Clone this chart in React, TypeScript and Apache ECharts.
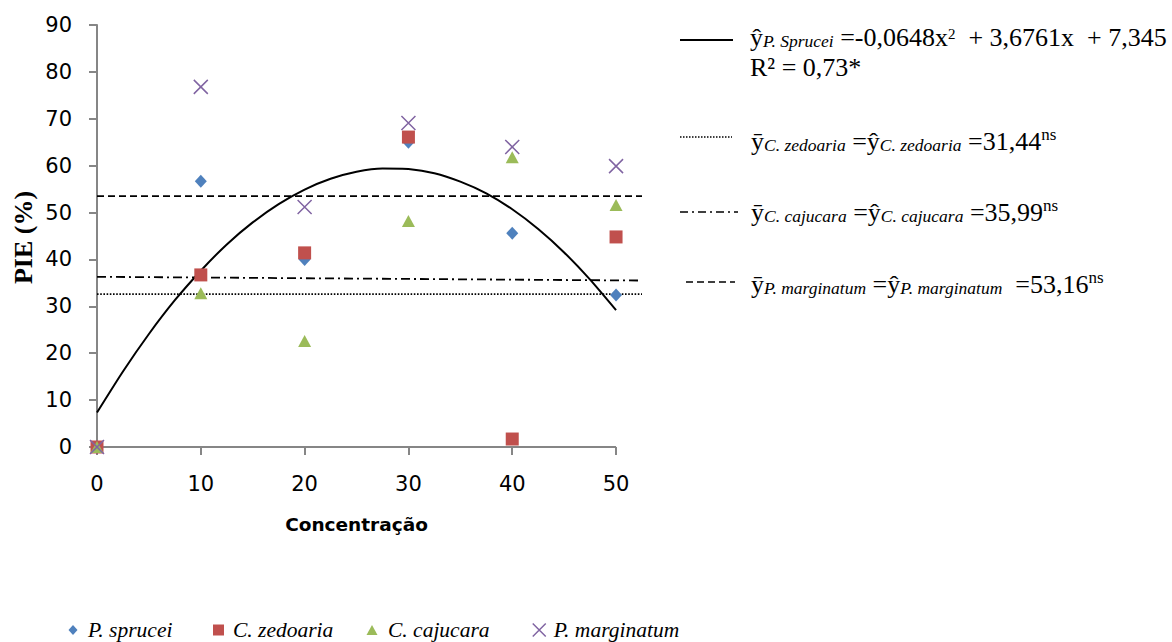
import React, { useEffect, useRef } from "react";
import * as echarts from "echarts";

// ---------- data ----------
const concentrations = [0, 10, 20, 30, 40, 50];
const pSprucei = [0, 56.7, 40.0, 65.0, 45.6, 32.4];
const cZedoaria = [0, 36.7, 41.4, 66.1, 1.7, 44.8];
const cCajucara = [0, 32.8, 22.6, 48.2, 61.8, 51.6];
const pMarginatum = [0, 76.8, 51.2, 69.1, 64.0, 59.9];

// fitted quadratic for P. sprucei
const curveX = [0, 2.5, 5, 7.5, 10, 12.5, 15, 17.5, 20, 22.5, 25, 27.5, 30, 32.5, 35, 37.5, 40, 42.5, 45, 47.5, 50];
const curveY = [7.35, 16.1, 24.1, 31.3, 37.6, 43.2, 47.9, 51.8, 54.9, 57.2, 58.7, 59.4, 59.3, 58.4, 56.6, 54.1, 50.7, 46.5, 41.5, 35.7, 29.2];

// mean lines (drawn across the whole plot width)
const meanLineX = [0, 52.5];
const zedoariaMean = [32.6, 32.6];
const cajucaraMean = [36.3, 35.5];
const marginatumMean = [53.5, 53.5];

const xTicks = [0, 10, 20, 30, 40, 50];
const xAxisLineX = [0, 50];
const xAxisLineY = [0, 0];

const seriesNames = ["P. sprucei", "C. zedoaria", "C. cajucara", "P. marginatum"];
const colors = ["#4F81BD", "#C0504D", "#9BBB59", "#8064A2"];

const X_PATH = "path://M0,0L10,10M10,0L0,10";
const SERIF = "Liberation Serif";
const SANS = "DejaVu Sans";
const AXIS_GRAY = "#868686";

const pairs = (xs: number[], ys: number[]) => xs.map((x, i) => [x, ys[i]]);

export default function App() {
  const ref = useRef<HTMLDivElement>(null);

  useEffect(() => {
    if (!ref.current) return;
    const chart = echarts.init(ref.current, null, { renderer: "svg" });

    const rich = {
      m: { fontFamily: SERIF, fontSize: 26, lineHeight: 30, verticalAlign: "bottom", color: "#000" },
      s: { fontFamily: SERIF, fontSize: 17.5, fontStyle: "italic", lineHeight: 30, verticalAlign: "bottom", color: "#000" },
      p: { fontFamily: SERIF, fontSize: 15, lineHeight: 30, verticalAlign: "bottom", padding: [0, 0, 9, 0], color: "#000" },
      n: { fontFamily: SERIF, fontSize: 17, lineHeight: 30, verticalAlign: "bottom", padding: [0, 0, 11, 0], color: "#000" },
    };

    const eqText = (x: number, y: number, text: string) => ({
      type: "text",
      x,
      y,
      style: { text, rich, align: "left", verticalAlign: "top" },
    });

    const sample = (x1: number, x2: number, y: number, dash: any, w: number) => ({
      type: "line",
      shape: { x1, y1: y, x2, y2: y },
      style: { stroke: "#000", lineWidth: w, lineDash: dash },
    });

    const legendBase = (name: string, left: number, icon: string, w: number, h: number, pad: number, extra: any = {}) => ({
      data: [name],
      left,
      top: 619,
      padding: 0,
      icon,
      itemWidth: w,
      itemHeight: h,
      selectedMode: false,
      textStyle: {
        fontFamily: SERIF,
        fontStyle: "italic",
        fontSize: 21.5,
        color: "#000",
        padding: [0, 0, 0, pad],
      },
      ...extra,
    });

    const option: any = {
      animation: false,
      backgroundColor: "#fff",
      grid: { left: 97, right: 530, top: 25, bottom: 195, containLabel: false },
      xAxis: {
        type: "value",
        min: 0,
        max: 52.5,
        interval: 10,
        axisLine: { show: false },
        axisTick: {
          show: true,
          customValues: xTicks,
          length: 8,
          lineStyle: { color: AXIS_GRAY, width: 2 },
        },
        axisLabel: {
          customValues: xTicks,
          margin: 26,
          fontFamily: SANS,
          fontSize: 21,
          color: "#000",
          formatter: (v: number) => (xTicks.indexOf(v) >= 0 ? String(v) : ""),
        },
        splitLine: { show: false },
      },
      yAxis: {
        type: "value",
        min: 0,
        max: 90,
        interval: 10,
        axisLine: { show: true, lineStyle: { color: AXIS_GRAY, width: 2 } },
        axisTick: { show: true, length: 8, lineStyle: { color: AXIS_GRAY, width: 2 } },
        axisLabel: { margin: 25, fontFamily: SANS, fontSize: 21, color: "#000" },
        splitLine: { show: false },
      },
      legend: [
        legendBase(seriesNames[0], 68.5, "diamond", 9, 10, 5.5),
        legendBase(seriesNames[1], 213, "rect", 11, 11, 4),
        legendBase(seriesNames[2], 366.5, "triangle", 11, 10, 5.5),
        legendBase(seriesNames[3], 532, X_PATH, 13, 13, 3, {
          itemStyle: { color: colors[3], borderColor: colors[3], borderWidth: 1.5 },
        }),
      ],
      series: [
        {
          name: "x-axis",
          type: "line",
          data: pairs(xAxisLineX, xAxisLineY),
          symbol: "none",
          silent: true,
          lineStyle: { color: AXIS_GRAY, width: 2 },
          z: 1,
        },
        {
          name: "mean C. zedoaria",
          type: "line",
          data: pairs(meanLineX, zedoariaMean),
          symbol: "none",
          silent: true,
          lineStyle: { color: "#000", width: 1.6, type: [1.6, 1.6] },
          z: 2,
        },
        {
          name: "mean C. cajucara",
          type: "line",
          data: pairs(meanLineX, cajucaraMean),
          symbol: "none",
          silent: true,
          lineStyle: { color: "#000", width: 1.8, type: [9, 4, 2, 4] },
          z: 2,
        },
        {
          name: "mean P. marginatum",
          type: "line",
          data: pairs(meanLineX, marginatumMean),
          symbol: "none",
          silent: true,
          lineStyle: { color: "#000", width: 1.8, type: [7, 4] },
          z: 2,
        },
        {
          name: "fit P. sprucei",
          type: "line",
          data: pairs(curveX, curveY),
          smooth: 0.2,
          symbol: "none",
          silent: true,
          lineStyle: { color: "#000", width: 2 },
          z: 2,
        },
        {
          name: seriesNames[0],
          type: "scatter",
          symbol: "diamond",
          symbolSize: [12, 13],
          data: pairs(concentrations, pSprucei),
          itemStyle: { color: colors[0], opacity: 1 },
          z: 3,
        },
        {
          name: seriesNames[1],
          type: "scatter",
          symbol: "rect",
          symbolSize: 13,
          data: pairs(concentrations, cZedoaria),
          itemStyle: { color: colors[1], opacity: 1 },
          z: 3,
        },
        {
          name: seriesNames[2],
          type: "scatter",
          symbol: "triangle",
          symbolSize: [13, 12],
          data: pairs(concentrations, cCajucara),
          itemStyle: { color: colors[2], opacity: 1 },
          z: 3,
        },
        {
          name: seriesNames[3],
          type: "scatter",
          symbol: X_PATH,
          symbolSize: 14,
          data: pairs(concentrations, pMarginatum),
          itemStyle: { color: colors[3], borderColor: colors[3], borderWidth: 1.5, opacity: 1 },
          z: 3,
        },
      ],
      graphic: [
        {
          type: "text",
          x: 23,
          y: 237.5,
          rotation: Math.PI / 2,
          style: {
            text: "PIE (%)",
            fontFamily: SERIF,
            fontWeight: "bold",
            fontSize: 26,
            fill: "#000",
            align: "center",
            verticalAlign: "middle",
          },
        },
        {
          type: "text",
          x: 356.5,
          y: 524,
          style: {
            text: "Concentração",
            fontFamily: SANS,
            fontWeight: "bold",
            fontSize: 18.5,
            fill: "#000",
            align: "center",
            verticalAlign: "middle",
          },
        },
        sample(680, 733, 40, null, 2),
        sample(680, 732, 137, [1.5, 1.5], 1.5),
        sample(680, 738, 212, [8, 4, 2, 4], 1.6),
        sample(686, 735, 282, [7, 4], 1.6),
        eqText(750, 20, "{m|ŷ}{s|P. Sprucei}{m| =-0,0648x}{p|2}{m|  + 3,6761x  + 7,345}"),
        eqText(750, 50, "{m|R² = 0,73*}"),
        eqText(751, 124, "{m|ȳ}{s|C. zedoaria}{m| =ŷ}{s|C. zedoaria}{m| =31,44}{n|ns}"),
        eqText(751, 195, "{m|ȳ}{s|C. cajucara}{m| =ŷ}{s|C. cajucara}{m| =35,99}{n|ns}"),
        eqText(751, 267, "{m|ȳ}{s|P. marginatum}{m| =ŷ}{s|P. marginatum}{m|  =53,16}{n|ns}"),
      ],
    };

    chart.setOption(option);
    return () => chart.dispose();
  }, []);

  return (
    <div
      ref={ref}
      style={{ position: "fixed", left: 0, top: 0, width: 1172, height: 642, background: "#fff" }}
    />
  );
}
